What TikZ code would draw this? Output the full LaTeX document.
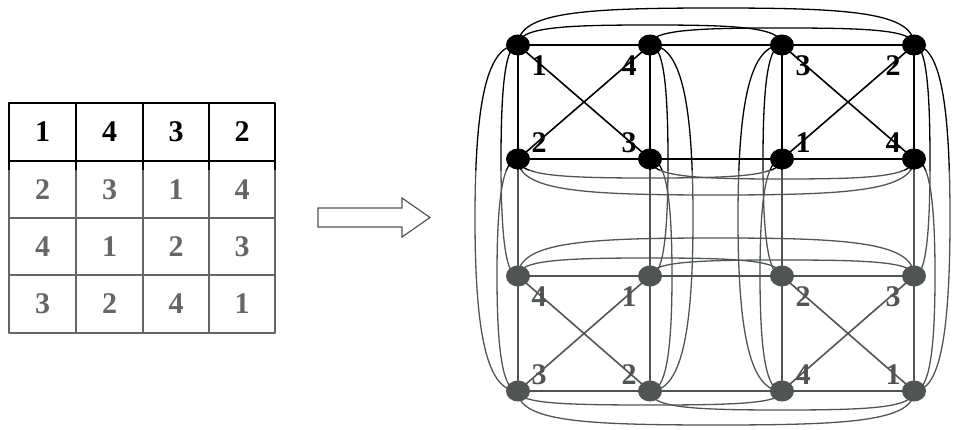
\documentclass[tikz,border=0pt]{standalone}
\usepackage{fontspec}
\setmainfont{Liberation Serif}
\usetikzlibrary{shapes.geometric,calc}
\definecolor{graphgray}{HTML}{505554}
\definecolor{tablegray}{HTML}{666666}
\colorlet{ink}{black}
\tikzset{
  vtx/.style={ellipse, fill=#1, minimum width=24pt, minimum height=21pt, inner sep=0pt},
  lbl/.style={font=\fontsize{30}{30}\selectfont\bfseries, text=#1, inner sep=0pt},
  side/.style={line width=2.4pt, draw=ink},
  diag/.style={line width=1.6pt, draw=ink},
  bow/.style={line width=1.3pt, draw=ink},
  tline/.style={line width=2.4pt, draw=ink},
  touter/.style={line width=2.8pt, draw=ink, line join=round},
  bigarrow/.style={line width=1.2pt, draw=graphgray, fill=white, line join=miter},
  % column arc: offset #1 in x, tangent length #2 at the middle
  vbow/.style 2 args={to path={.. controls +(0.7*#1,0) and +(0,-#2) ..
      ($(\tikztostart)!0.5!(\tikztotarget)+(#1,0)$)
      .. controls +(0,#2) and +(0.7*#1,0) .. (\tikztotarget)}},
  % row arc: offset #1 in y, tangent length #2 at the middle
  hbow/.style 2 args={to path={.. controls +(0,0.9*#1) and +(-#2,0) ..
      ($(\tikztostart)!0.5!(\tikztotarget)+(0,#1)$)
      .. controls +(#2,0) and +(0,0.9*#1) .. (\tikztotarget)}},
}
\newcommand\tablelines{%
  \draw[tline] (9,161)--(275,161) (9,218)--(275,218) (9,275)--(275,275);
  \draw[tline] (76,103)--(76,333) (143,103)--(143,333) (209,103)--(209,333);
  \draw[touter] (9,103) rectangle (275,333);
}
\newcommand\graphedges{%
  \foreach \pa/\pb/\pc/\pd in {11/12/21/22, 13/14/23/24, 31/32/41/42, 33/34/43/44}{
    \draw[side] (c\pa) -- (c\pb) -- (c\pd) -- (c\pc) -- cycle;
    \draw[diag] (c\pa) -- (c\pd) (c\pb) -- (c\pc);
  }
  \draw[side] (c12)--(c13) (c22)--(c23) (c32)--(c33) (c42)--(c43)
              (c21)--(c31) (c22)--(c32) (c23)--(c33) (c24)--(c34);
  % rows: 1-4, 1-3, 2-4
  \foreach \r/\ha/\hb/\hc in {1/-37/-20/-17, 2/36/19/20, 3/-38/-18/-16, 4/34/14/19}{
    \draw[bow] (c\r1) to[hbow={\ha}{130}] (c\r4);
    \draw[bow] (c\r1) to[hbow={\hb}{85}] (c\r3);
    \draw[bow] (c\r2) to[hbow={\hc}{85}] (c\r4);
  }
  % columns: 1-4, 1-3, 2-4
  \foreach \k/\wa/\wb/\wc in {1/-43/-17/-21, 2/43/18/22, 3/-44/-19/-22, 4/36/16/21}{
    \draw[bow] (c1\k) to[vbow={\wa}{120}] (c4\k);
    \draw[bow] (c1\k) to[vbow={\wb}{80}] (c3\k);
    \draw[bow] (c2\k) to[vbow={\wc}{80}] (c4\k);
  }
}
\begin{document}
\begin{tikzpicture}[x=1pt,y=-1pt]
\useasboundingbox (0,0) rectangle (953,430);
% vertex positions
\foreach \r/\yy in {1/45,2/159,3/276,4/391}{
  \foreach \k/\xx in {1/518,2/650,3/782,4/914}{
    \coordinate (c\r\k) at (\xx,\yy);
  }
}
% upper part black, lower part grey
\begin{scope}
  \clip (0,0) rectangle (953,171);
  \colorlet{ink}{black}
  \tablelines
  \graphedges
\end{scope}
\begin{scope}
  \clip (0,171) rectangle (953,430);
  \colorlet{ink}{tablegray}
  \tablelines
  \colorlet{ink}{graphgray}
  \graphedges
\end{scope}
% vertices
\foreach \r in {1,2}{\foreach \k in {1,...,4}{\node[vtx=black] (v\r\k) at (c\r\k) {};}}
\foreach \r in {3,4}{\foreach \k in {1,...,4}{\node[vtx=graphgray] (v\r\k) at (c\r\k) {};}}
% vertex labels
\node[lbl=black] (l11) at ($(c11)+(21,21)$) {1};
\node[lbl=black] (l12) at ($(c12)+(-21,21)$) {4};
\node[lbl=black] (l21) at ($(c21)+(21,-16)$) {2};
\node[lbl=black] (l22) at ($(c22)+(-21,-16)$) {3};
\node[lbl=black] (l13) at ($(c13)+(21,21)$) {3};
\node[lbl=black] (l14) at ($(c14)+(-21,21)$) {2};
\node[lbl=black] (l23) at ($(c23)+(21,-16)$) {1};
\node[lbl=black] (l24) at ($(c24)+(-21,-16)$) {4};
\node[lbl=graphgray] (l31) at ($(c31)+(21,21)$) {4};
\node[lbl=graphgray] (l32) at ($(c32)+(-21,21)$) {1};
\node[lbl=graphgray] (l41) at ($(c41)+(21,-16)$) {3};
\node[lbl=graphgray] (l42) at ($(c42)+(-21,-16)$) {2};
\node[lbl=graphgray] (l33) at ($(c33)+(21,21)$) {2};
\node[lbl=graphgray] (l34) at ($(c34)+(-21,21)$) {3};
\node[lbl=graphgray] (l43) at ($(c43)+(21,-16)$) {4};
\node[lbl=graphgray] (l44) at ($(c44)+(-21,-16)$) {1};
% table entries
\foreach \k/\xx in {1/42.5,2/109.5,3/176,4/242}{\coordinate (tx\k) at (\xx,0);}
\foreach \r/\yy/\col/\vals in {1/132/black/{1,4,3,2}, 2/189.5/tablegray/{2,3,1,4}, 3/246.5/tablegray/{4,1,2,3}, 4/304/tablegray/{3,2,4,1}}{
  \foreach \v [count=\k] in \vals{
    \node[lbl=\col] (t\r\k) at (tx\k |- 0,\yy) {\v};
  }
}
% transformation arrow
\draw[bigarrow] (318,208) -- (402,208) -- (402,198) -- (430,217.5) -- (402,237) -- (402,227) -- (318,227) -- cycle;
\end{tikzpicture}
\end{document}
